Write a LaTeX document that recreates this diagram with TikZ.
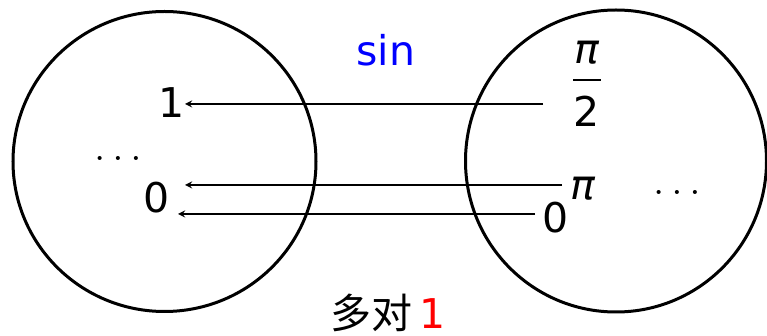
\documentclass[tikz,border=0pt]{standalone}
\usepackage{fontspec}
\setmainfont{DejaVu Sans}
\newfontfamily\cjk{Noto Sans CJK SC}
\begin{document}
\begin{tikzpicture}[>=stealth, x=0.5pt, y=-0.5pt,
  every node/.style={inner sep=0pt, font=\fontsize{20.5}{24}\selectfont},
  set/.style={line width=1.5pt},
  map/.style={->, line width=0.6pt}]
\useasboundingbox (0,0) rectangle (767,336);
% the two sets
\draw[set] (164.5,161.5) ellipse[x radius=75.75pt, y radius=75pt];
\draw[set] (616,161) ellipse[x radius=75.25pt, y radius=75.5pt];
% left set
\node (one) at (172,103) {1};
\node (ldots) at (118,158) {$\ldots$};
\node (zero) at (157,198) {0};
% right set
\node (pinum) at (587,53) {\textit{π}};
\node (two) at (587,111) {2};
\draw[line width=1pt] (573,80) -- (601,80);
\node (pi) at (583,189) {\textit{π}};
\node (zeror) at (556,218) {0};
\node (rdots) at (677,192) {$\ldots$};
% labels
\node (sin) at (386,50) {\textcolor{blue}{sin}};
\node (manyone) at (388,329) [anchor=base] {{\cjk 多对}\,\textcolor{red}{1}};
% arrows
\coordinate (s1) at (543,104);
\coordinate (e1) at (185,104);
\coordinate (s2) at (562,185);
\coordinate (e2) at (185,185);
\coordinate (s3) at (535,214);
\coordinate (e3) at (178,214);
\draw[map] (s1) -- (e1);
\draw[map] (s2) -- (e2);
\draw[map] (s3) -- (e3);
\end{tikzpicture}
\end{document}
